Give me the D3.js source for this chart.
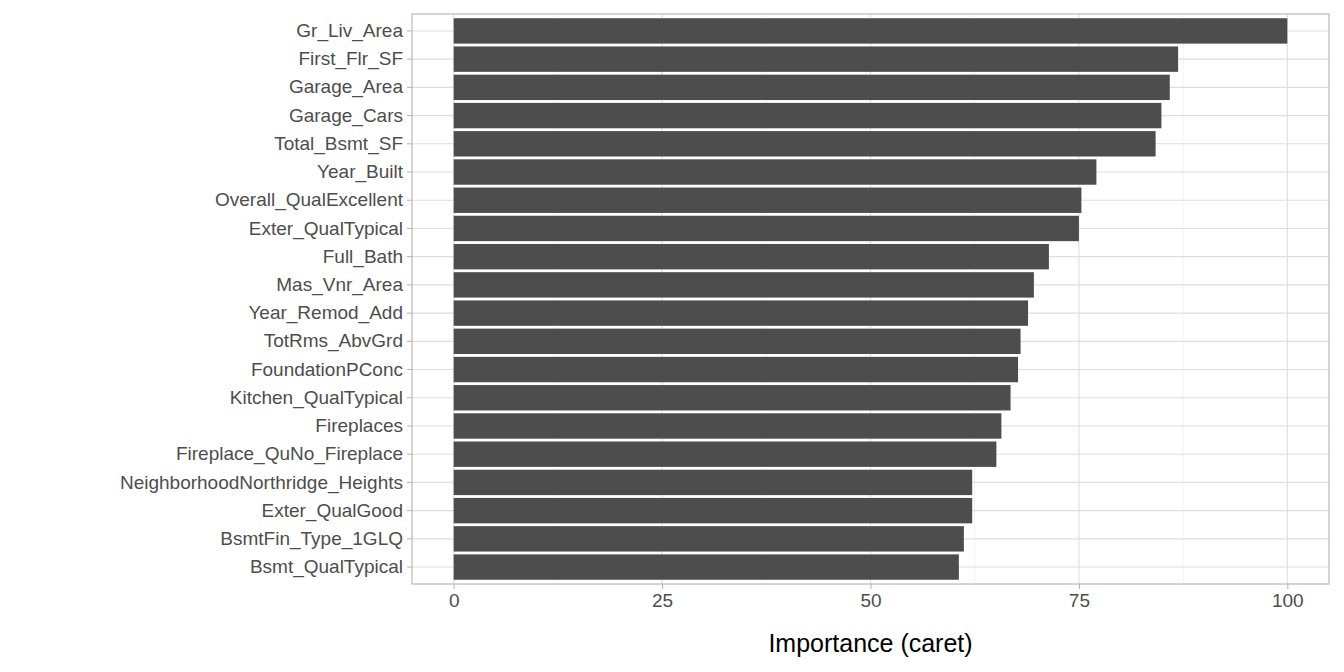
<!DOCTYPE html>
<html>
<head>
<meta charset="utf-8">
<script src="https://cdn.jsdelivr.net/npm/d3@7"></script>
<style>
  body {margin:0; background:#fff;}
  text {font-family: "Liberation Sans", Arial, sans-serif;}
</style>
</head>
<body>
<script>
// variable importance, top to bottom
var features = ["Gr_Liv_Area","First_Flr_SF","Garage_Area","Garage_Cars","Total_Bsmt_SF",
  "Year_Built","Overall_QualExcellent","Exter_QualTypical","Full_Bath","Mas_Vnr_Area",
  "Year_Remod_Add","TotRms_AbvGrd","FoundationPConc","Kitchen_QualTypical","Fireplaces",
  "Fireplace_QuNo_Fireplace","NeighborhoodNorthridge_Heights","Exter_QualGood",
  "BsmtFin_Type_1GLQ","Bsmt_QualTypical"];
var importance = [100, 86.9, 85.9, 84.9, 84.2, 77.1, 75.3, 75.0, 71.4, 69.6,
  68.9, 68.0, 67.7, 66.8, 65.7, 65.1, 62.2, 62.2, 61.2, 60.6];
var xTicks = [0, 25, 50, 75, 100];
var xMinor = [12.5, 37.5, 62.5, 87.5];

var width = 1344, height = 672;
var pLeft = 412, pRight = 1329, pTop = 14, pBottom = 584;

var svg = d3.select("body").append("svg")
  .attr("width", width).attr("height", height);

var x = d3.scaleLinear().domain([-5, 105]).range([pLeft, pRight]);
var n = features.length;
var step = (pBottom - pTop) / (n - 1 + 1.2);
var y = d3.scaleBand().domain(features)
  .range([pTop + 0.6 * step - step / 2, pBottom - 0.6 * step + step / 2])
  .paddingInner(0.1).paddingOuter(0.05);

// grid
svg.selectAll(".minor").data(xMinor).enter().append("line")
  .attr("x1", d => x(d)).attr("x2", d => x(d))
  .attr("y1", pTop).attr("y2", pBottom)
  .attr("stroke", "#ebebeb").attr("stroke-width", 0.6);
svg.selectAll(".major").data(xTicks).enter().append("line")
  .attr("x1", d => x(d)).attr("x2", d => x(d))
  .attr("y1", pTop).attr("y2", pBottom)
  .attr("stroke", "#dedede").attr("stroke-width", 1.1);
svg.selectAll(".hgrid").data(features).enter().append("line")
  .attr("x1", pLeft).attr("x2", pRight)
  .attr("y1", d => y(d) + y.bandwidth() / 2).attr("y2", d => y(d) + y.bandwidth() / 2)
  .attr("stroke", "#dedede").attr("stroke-width", 1.1);

// bars
svg.selectAll("rect.bar").data(features).enter().append("rect")
  .attr("x", x(0))
  .attr("y", d => y(d))
  .attr("width", (d, i) => x(importance[i]) - x(0))
  .attr("height", y.bandwidth())
  .attr("fill", "#4d4d4d");

// border
svg.append("rect").attr("x", pLeft).attr("y", pTop)
  .attr("width", pRight - pLeft).attr("height", pBottom - pTop)
  .attr("fill", "none").attr("stroke", "#b3b3b3").attr("stroke-width", 1.1);

// axes
var xAxis = svg.append("g").attr("transform", "translate(0," + pBottom + ")")
  .call(d3.axisBottom(x).tickValues(xTicks).tickSize(5).tickPadding(5));
var yAxis = svg.append("g").attr("transform", "translate(" + pLeft + ",0)")
  .call(d3.axisLeft(y).tickSize(5).tickPadding(4));
[xAxis, yAxis].forEach(function (g) {
  g.select(".domain").remove();
  g.selectAll("line").attr("stroke", "#b3b3b3");
  g.selectAll("text").attr("fill", "#4d4d4d").style("font-size", "19px")
    .style("font-family", "Liberation Sans, Arial, sans-serif");
});

svg.append("text").attr("x", (pLeft + pRight) / 2).attr("y", 652)
  .attr("text-anchor", "middle").style("font-size", "25px").attr("fill", "#000")
  .text("Importance (caret)");
</script>
</body>
</html>
